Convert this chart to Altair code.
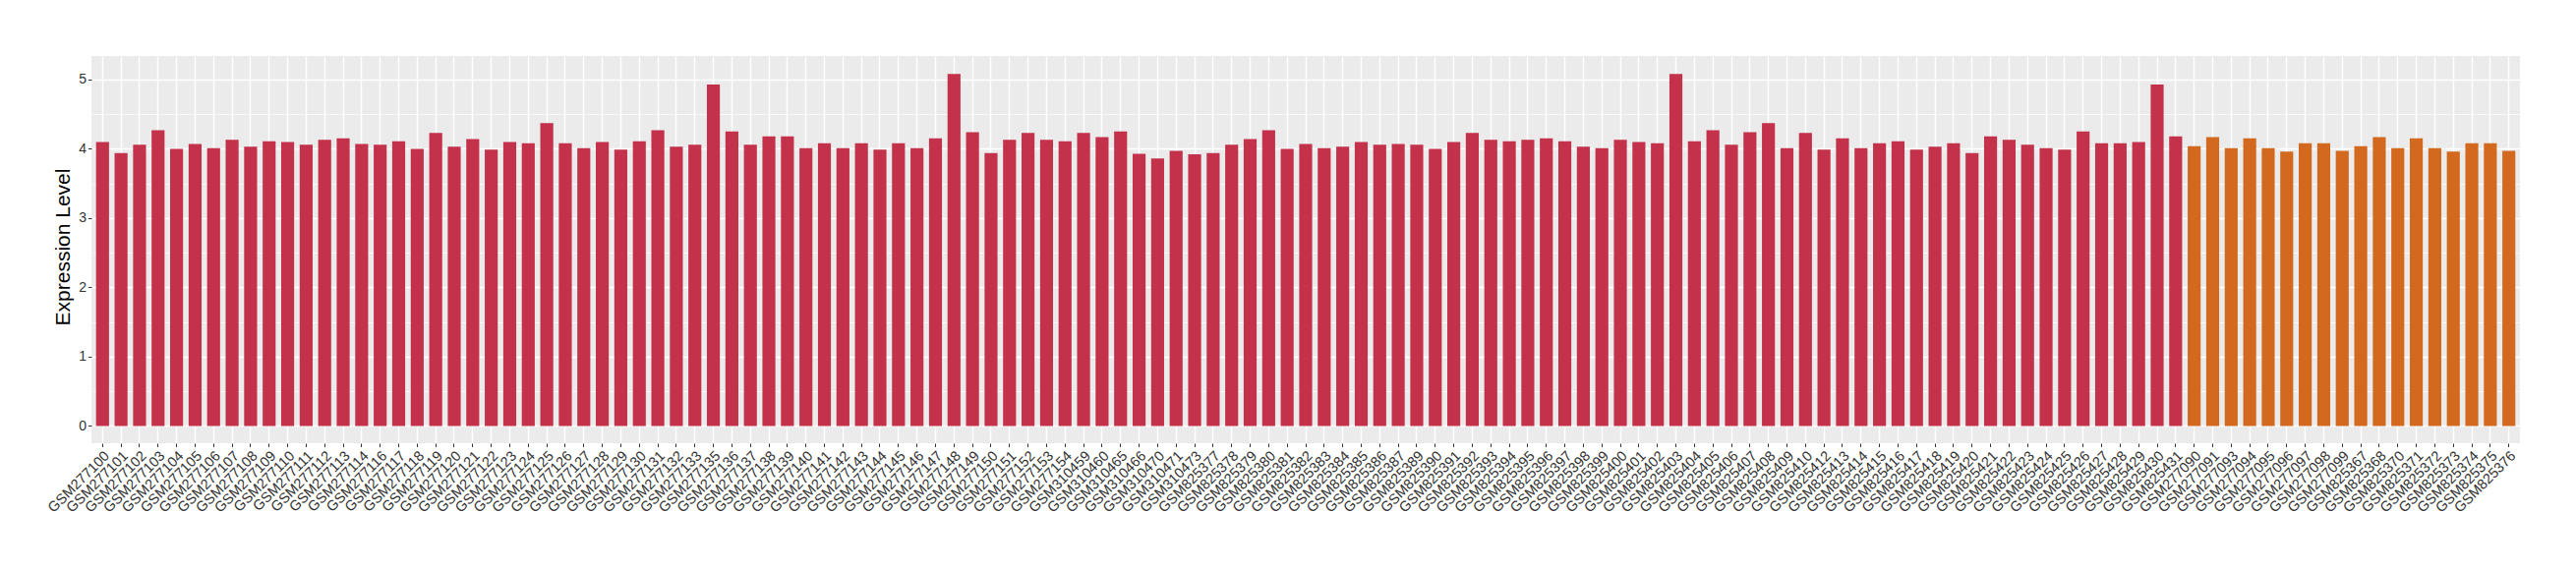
import altair as alt
import pandas as pd

red_samples = [
    "GSM277100", "GSM277101", "GSM277102", "GSM277103", "GSM277104", "GSM277105",
    "GSM277106", "GSM277107", "GSM277108", "GSM277109", "GSM277110", "GSM277111",
    "GSM277112", "GSM277113", "GSM277114", "GSM277116", "GSM277117", "GSM277118",
    "GSM277119", "GSM277120", "GSM277121", "GSM277122", "GSM277123", "GSM277124",
    "GSM277125", "GSM277126", "GSM277127", "GSM277128", "GSM277129", "GSM277130",
    "GSM277131", "GSM277132", "GSM277133", "GSM277135", "GSM277136", "GSM277137",
    "GSM277138", "GSM277139", "GSM277140", "GSM277141", "GSM277142", "GSM277143",
    "GSM277144", "GSM277145", "GSM277146", "GSM277147", "GSM277148", "GSM277149",
    "GSM277150", "GSM277151", "GSM277152", "GSM277153", "GSM277154",
    "GSM310459", "GSM310460", "GSM310465", "GSM310466", "GSM310470", "GSM310471",
    "GSM310473",
    "GSM825377", "GSM825378", "GSM825379", "GSM825380", "GSM825381", "GSM825382",
    "GSM825383", "GSM825384", "GSM825385", "GSM825386", "GSM825387", "GSM825389",
    "GSM825390", "GSM825391", "GSM825392", "GSM825393", "GSM825394", "GSM825395",
    "GSM825396", "GSM825397", "GSM825398", "GSM825399", "GSM825400", "GSM825401",
    "GSM825402", "GSM825403", "GSM825404", "GSM825405", "GSM825406", "GSM825407",
    "GSM825408", "GSM825409", "GSM825410", "GSM825412", "GSM825413", "GSM825414",
    "GSM825415", "GSM825416", "GSM825417", "GSM825418", "GSM825419", "GSM825420",
    "GSM825421", "GSM825422", "GSM825423", "GSM825424", "GSM825425", "GSM825426",
    "GSM825427", "GSM825428", "GSM825429", "GSM825430", "GSM825431",
]
red_values = [
    4.10, 3.94, 4.06, 4.27, 4.00, 4.07, 4.01, 4.13, 4.03, 4.11, 4.10, 4.06, 4.13,
    4.15, 4.07, 4.06, 4.11, 4.00, 4.23, 4.03, 4.14, 3.99, 4.10, 4.08, 4.37, 4.08,
    4.01,
    4.10, 3.99, 4.11, 4.27, 4.03, 4.06, 4.93, 4.25, 4.06, 4.18, 4.18, 4.01, 4.08,
    4.01, 4.08, 3.99, 4.08, 4.01, 4.15, 5.08, 4.24, 3.94, 4.13, 4.23, 4.13, 4.11,
    4.23, 4.17, 4.25, 3.93, 3.86, 3.97, 3.92, 3.94, 4.06, 4.14, 4.27, 4.00, 4.07,
    4.01, 4.03, 4.10, 4.06, 4.07, 4.06, 4.00, 4.10, 4.23, 4.13, 4.11, 4.13, 4.15,
    4.11, 4.03, 4.01, 4.13, 4.10, 4.08, 5.08, 4.11, 4.27, 4.06, 4.24, 4.37, 4.01,
    4.23, 3.99, 4.15, 4.01, 4.08, 4.11, 3.99, 4.03, 4.08, 3.94, 4.18, 4.13,
    4.06, 4.01, 3.99, 4.25, 4.08, 4.08, 4.10, 4.93, 4.18,
]
orange_samples = [
    "GSM277090", "GSM277091", "GSM277093", "GSM277094", "GSM277095", "GSM277096",
    "GSM277097", "GSM277098", "GSM277099", "GSM825367", "GSM825368", "GSM825370",
    "GSM825371", "GSM825372", "GSM825373", "GSM825374", "GSM825375", "GSM825376",
]
orange_values = [
    4.04, 4.17, 4.01, 4.15, 4.01, 3.96, 4.08, 4.08, 3.97,
    4.04, 4.17, 4.01, 4.15, 4.01, 3.96, 4.08, 4.08, 3.97,
]
group_names = ["red", "orange"]
group_colors = ["#C3314A", "#D2691E"]
y_grid_values = [0, 0.5, 1, 1.5, 2, 2.5, 3, 3.5, 4, 4.5, 5]

samples = red_samples + orange_samples
df = pd.DataFrame({
    "sample": samples,
    "value": red_values + orange_values,
    "group": [group_names[0]] * len(red_samples) + [group_names[1]] * len(orange_samples),
})

FONT = "Liberation Sans"

chart = alt.Chart(df).mark_bar().encode(
    x=alt.X(
        "sample:N",
        sort=samples,
        scale=alt.Scale(paddingInner=0.3, paddingOuter=0.25),
        axis=alt.Axis(
            title=None, labelAngle=-45, labelAlign="right", labelBaseline="top",
            labelFont=FONT, labelFontSize=14.5, labelColor="#333333",
            labelOverlap=False, labelPadding=2,
            tickColor="#333333", tickSize=3.5, tickWidth=1,
            domain=False, grid=True, gridColor="white", gridWidth=1.4,
        ),
    ),
    y=alt.Y(
        "value:Q",
        scale=alt.Scale(domain=[-0.25, 5.34], nice=False),
        axis=alt.Axis(
            values=y_grid_values,
            labelExpr="datum.value % 1 === 0 ? format(datum.value, 'd') : ''",
            title="Expression Level", titleFont=FONT, titleFontSize=21,
            titleFontWeight="normal", titleColor="black",
            titleAngle=270, titleX=-29, titleY=194,
            titleAlign="center", titleBaseline="middle",
            labelFont=FONT, labelFontSize=14, labelColor="#333333", labelPadding=2,
            tickColor="#333333", tickSize=3.5, tickWidth=1,
            tickOpacity={"condition": {"test": "datum.value % 1 !== 0", "value": 0}, "value": 1},
            domain=False, grid=True, gridColor="white",
            gridWidth={"condition": {"test": "datum.value % 1 !== 0", "value": 0.7}, "value": 1.4},
        ),
    ),
    color=alt.Color(
        "group:N",
        scale=alt.Scale(domain=group_names, range=group_colors),
        legend=None,
    ),
).properties(
    width=2470,
    height=394,
    background="white",
    padding={"left": 85, "top": 49, "right": 49, "bottom": 112},
    autosize=alt.AutoSizeParams(type="none"),
).configure_view(fill="#EBEBEB", stroke=None)

chart.save("out.html", embed_options={"renderer": "svg", "actions": False})
